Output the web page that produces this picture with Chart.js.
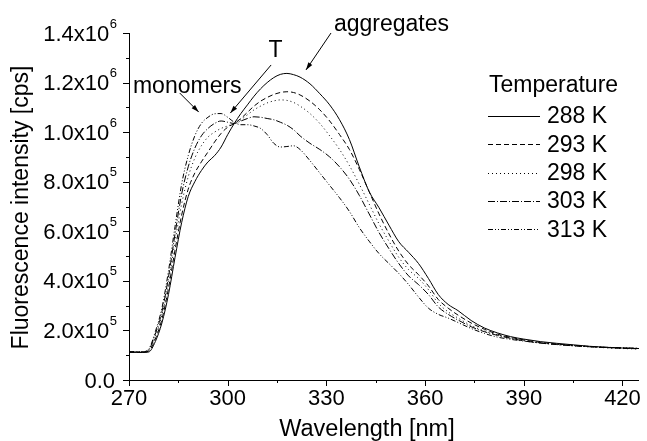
<!DOCTYPE html>
<html>
<head>
<meta charset="utf-8">
<script src="https://cdn.jsdelivr.net/npm/chart.js@4"></script>
<style>
  html, body { margin: 0; padding: 0; background: #fff; }
  #wrap { width: 647px; height: 441px; }
</style>
</head>
<body>
<div id="wrap"><canvas id="fluoChart" width="647" height="441"></canvas></div>
<script>
// Wavelength grid [nm]
const wavelengths = [270, 274, 276, 278, 280, 282, 284, 286, 288, 290, 292, 294, 296, 298, 300, 302, 304, 306, 308, 310,
  312, 314, 316, 318, 320, 322, 325, 328, 331, 334, 337, 340, 343, 346, 349, 352, 355, 358, 361, 364,
  367, 370, 374, 378, 382, 386, 390, 395, 400, 405, 410, 415, 420, 425];

// Fluorescence intensity [cps]
const k288 = [1.12e5, 1.11e5, 1.13e5, 1.55e5, 2.30e5, 3.45e5, 4.95e5, 6.35e5, 7.40e5, 8.00e5,
  8.45e5, 8.80e5, 9.05e5, 9.40e5, 9.90e5, 1.035e6, 1.075e6, 1.11e6, 1.145e6, 1.175e6,
  1.20e6, 1.22e6, 1.233e6, 1.237e6, 1.232e6, 1.222e6, 1.195e6, 1.155e6, 1.11e6, 1.05e6,
  9.70e5, 8.60e5, 7.60e5, 6.95e5, 6.25e5, 5.58e5, 5.15e5, 4.70e5, 4.10e5, 3.45e5,
  3.05e5, 2.80e5, 2.40e5, 2.10e5, 1.90e5, 1.75e5, 1.65e5, 1.55e5, 1.48e5, 1.42e5,
  1.36e5, 1.32e5, 1.29e5, 1.27e5];
const k293 = [1.13e5, 1.12e5, 1.17e5, 1.65e5, 2.45e5, 3.70e5, 5.25e5, 6.65e5, 7.70e5, 8.35e5,
  8.80e5, 9.20e5, 9.60e5, 9.95e5, 1.02e6, 1.035e6, 1.055e6, 1.08e6, 1.105e6, 1.125e6,
  1.14e6, 1.152e6, 1.16e6, 1.163e6, 1.16e6, 1.15e6, 1.125e6, 1.09e6, 1.045e6, 9.90e5,
  9.30e5, 8.50e5, 7.60e5, 6.70e5, 5.90e5, 5.20e5, 4.65e5, 4.25e5, 3.80e5, 3.25e5,
  2.90e5, 2.62e5, 2.30e5, 2.05e5, 1.85e5, 1.72e5, 1.62e5, 1.52e5, 1.45e5, 1.40e5,
  1.35e5, 1.31e5, 1.28e5, 1.26e5];
const k298 = [1.14e5, 1.13e5, 1.20e5, 1.75e5, 2.60e5, 3.95e5, 5.60e5, 7.10e5, 8.20e5, 8.95e5,
  9.45e5, 9.80e5, 1.0e6, 1.015e6, 1.025e6, 1.035e6, 1.05e6, 1.07e6, 1.09e6, 1.105e6,
  1.118e6, 1.126e6, 1.13e6, 1.128e6, 1.12e6, 1.105e6, 1.075e6, 1.035e6, 9.85e5, 9.30e5,
  8.65e5, 7.90e5, 7.10e5, 6.30e5, 5.60e5, 4.95e5, 4.45e5, 4.10e5, 3.65e5, 3.10e5,
  2.75e5, 2.50e5, 2.20e5, 1.98e5, 1.82e5, 1.70e5, 1.60e5, 1.50e5, 1.43e5, 1.38e5,
  1.34e5, 1.30e5, 1.27e5, 1.25e5];
const k303 = [1.13e5, 1.13e5, 1.22e5, 1.85e5, 2.75e5, 4.15e5, 5.90e5, 7.50e5, 8.60e5, 9.35e5,
  9.85e5, 1.015e6, 1.035e6, 1.045e6, 1.04e6, 1.035e6, 1.045e6, 1.055e6, 1.062e6, 1.06e6,
  1.055e6, 1.05e6, 1.04e6, 1.028e6, 1.01e6, 9.85e5, 9.55e5, 9.30e5, 9.0e5, 8.60e5,
  8.10e5, 7.45e5, 6.70e5, 5.95e5, 5.30e5, 4.70e5, 4.20e5, 3.85e5, 3.45e5, 2.95e5,
  2.65e5, 2.42e5, 2.15e5, 1.95e5, 1.80e5, 1.68e5, 1.58e5, 1.49e5, 1.43e5, 1.38e5,
  1.34e5, 1.31e5, 1.29e5, 1.27e5];
const k313 = [1.14e5, 1.14e5, 1.25e5, 1.95e5, 2.90e5, 4.40e5, 6.20e5, 7.90e5, 9.05e5, 9.85e5,
  1.035e6, 1.06e6, 1.074e6, 1.075e6, 1.06e6, 1.04e6, 1.03e6, 1.03e6, 1.025e6, 1.015e6,
  9.90e5, 9.55e5, 9.40e5, 9.42e5, 9.45e5, 9.30e5, 8.85e5, 8.35e5, 7.85e5, 7.35e5,
  6.80e5, 6.15e5, 5.60e5, 5.10e5, 4.70e5, 4.30e5, 3.85e5, 3.35e5, 2.90e5, 2.65e5,
  2.50e5, 2.32e5, 2.08e5, 1.88e5, 1.73e5, 1.64e5, 1.57e5, 1.50e5, 1.44e5, 1.39e5,
  1.35e5, 1.32e5, 1.30e5, 1.28e5];

const temperatures = ['288 K', '293 K', '298 K', '303 K', '313 K'];
const seriesValues = [k288, k293, k298, k303, k313];
const dashPatterns = [[], [5, 3], [1, 3], [7, 2, 1, 2], [5, 2, 1, 2, 1, 2]];

// Axis ticks
const xMajor = [270, 300, 330, 360, 390, 420];
const xMinor = [285, 315, 345, 375, 405];
const yMajor = [0, 2e5, 4e5, 6e5, 8e5, 1e6, 1.2e6, 1.4e6];
const yMinor = [1e5, 3e5, 5e5, 7e5, 9e5, 1.1e6, 1.3e6];
const yTickMantissa = ['0.0', '2.0x10', '4.0x10', '6.0x10', '8.0x10', '1.0x10', '1.2x10', '1.4x10'];
const yTickExponent = ['', '5', '5', '5', '5', '6', '6', '6'];

const xTitle = 'Wavelength [nm]';
const yTitle = 'Fluorescence intensity [cps]';

const FONT = "'Liberation Sans', Arial, sans-serif";

// Hand-drawn tick marks (major longer than minor, pointing outward)
const tickMarks = {
    id: 'tickMarks',
    afterDraw: function(chart) {
        const ctx = chart.ctx;
        const x = chart.scales.x, y = chart.scales.y;
        ctx.save();
        ctx.strokeStyle = '#000';
        ctx.lineWidth = 1;
        ctx.beginPath();
        xMajor.forEach(v => {
            const px = Math.round(x.getPixelForValue(v)) + 0.5;
            ctx.moveTo(px, y.bottom); ctx.lineTo(px, y.bottom + 6);
        });
        xMinor.forEach(v => {
            const px = Math.round(x.getPixelForValue(v)) + 0.5;
            ctx.moveTo(px, y.bottom); ctx.lineTo(px, y.bottom + 3);
        });
        yMajor.forEach(v => {
            const py = Math.round(y.getPixelForValue(v)) + 0.5;
            ctx.moveTo(x.left, py); ctx.lineTo(x.left - 6, py);
        });
        yMinor.forEach(v => {
            const py = Math.round(y.getPixelForValue(v)) + 0.5;
            ctx.moveTo(x.left, py); ctx.lineTo(x.left - 3, py);
        });
        ctx.stroke();
        ctx.restore();
    }
};

// Y tick labels in "a.bx10^n" form with a raised exponent, plus both axis titles
const axisText = {
    id: 'axisText',
    afterDraw: function(chart) {
        const ctx = chart.ctx;
        const x = chart.scales.x, y = chart.scales.y;
        const area = chart.chartArea;
        ctx.save();
        ctx.fillStyle = '#000';
        ctx.textBaseline = 'alphabetic';
        yMajor.forEach((v, i) => {
            const py = y.getPixelForValue(v);
            const exp = yTickExponent[i];
            if (exp) {
                ctx.font = '13px ' + FONT;
                ctx.textAlign = 'right';
                ctx.fillText(exp, area.left - 12, py - 5.4);
                const ew = ctx.measureText(exp).width;
                ctx.font = '22px ' + FONT;
                ctx.fillText(yTickMantissa[i], area.left - 12.5 - ew, py + 7.5);
            } else {
                ctx.font = '22px ' + FONT;
                ctx.textAlign = 'right';
                ctx.fillText(yTickMantissa[i], area.left - 14, py + 7.5);
            }
        });

        // x title, slightly left of the axis centre as in the original
        ctx.font = '23.5px ' + FONT;
        ctx.textAlign = 'center';
        ctx.fillText(xTitle, (area.left + area.right) / 2 - 17, 436);

        // y title, rotated
        ctx.font = '23px ' + FONT;
        ctx.translate(27.5, (area.top + area.bottom) / 2 + 1);
        ctx.rotate(-Math.PI / 2);
        ctx.textAlign = 'center';
        ctx.fillText(yTitle, 0, 0);
        ctx.restore();
    }
};

// Legend box with title, placed inside the plot area
const tempLegend = {
    id: 'tempLegend',
    afterDraw: function(chart) {
        const ctx = chart.ctx;
        const area = chart.chartArea;
        const left = area.left + 359;
        const top = area.top + 53;
        ctx.save();
        ctx.fillStyle = '#000';
        ctx.font = '23px ' + FONT;
        ctx.textBaseline = 'middle';
        ctx.textAlign = 'left';
        ctx.fillText('Temperature', left + 1, top);
        chart.data.datasets.forEach((ds, i) => {
            const rowY = top + 30 + i * 28.3;
            ctx.strokeStyle = '#000';
            ctx.lineWidth = 1;
            ctx.setLineDash(ds.borderDash);
            ctx.beginPath();
            ctx.moveTo(left, Math.round(rowY) + 0.5);
            ctx.lineTo(left + 52, Math.round(rowY) + 0.5);
            ctx.stroke();
            ctx.setLineDash([]);
            ctx.fillText(ds.label, left + 59, rowY + 1);
        });
        ctx.restore();
    }
};

// Text labels with arrows, positioned in data coordinates
const notes = [
    { text: 'monomers', x: 271.2, y: 1.183e6, from: [285.4, 1.158e6], to: [291.2, 1.081e6] },
    { text: 'T', x: 312.4, y: 1.329e6, from: [313.2, 1.271e6], to: [300.8, 1.077e6] },
    { text: 'aggregates', x: 332.3, y: 1.433e6, from: [331.4, 1.40e6], to: [323.8, 1.251e6] }
];

const arrowNotes = {
    id: 'arrowNotes',
    afterDraw: function(chart) {
        const ctx = chart.ctx;
        const x = chart.scales.x, y = chart.scales.y;
        ctx.save();
        ctx.fillStyle = '#000';
        ctx.strokeStyle = '#000';
        ctx.lineWidth = 1;
        ctx.font = '23px ' + FONT;
        ctx.textBaseline = 'middle';
        ctx.textAlign = 'left';
        notes.forEach(n => {
            ctx.fillText(n.text, x.getPixelForValue(n.x), y.getPixelForValue(n.y));
            const x1 = x.getPixelForValue(n.from[0]), y1 = y.getPixelForValue(n.from[1]);
            const x2 = x.getPixelForValue(n.to[0]), y2 = y.getPixelForValue(n.to[1]);
            const ang = Math.atan2(y2 - y1, x2 - x1);
            ctx.beginPath();
            ctx.moveTo(x1, y1);
            ctx.lineTo(x2, y2);
            ctx.stroke();
            const len = 8, spread = 0.3;
            ctx.beginPath();
            ctx.moveTo(x2, y2);
            ctx.lineTo(x2 - len * Math.cos(ang - spread), y2 - len * Math.sin(ang - spread));
            ctx.lineTo(x2 - len * Math.cos(ang + spread), y2 - len * Math.sin(ang + spread));
            ctx.closePath();
            ctx.fill();
        });
        ctx.restore();
    }
};

const ctx = document.getElementById('fluoChart').getContext('2d');

const chart = new Chart(ctx, {
    type: 'line',
    data: {
        datasets: temperatures.map((t, i) => ({
            label: t,
            data: wavelengths.map((w, j) => ({ x: w, y: seriesValues[i][j] })),
            borderColor: '#000',
            borderWidth: 1,
            borderDash: dashPatterns[i],
            pointRadius: 0,
            fill: false,
            cubicInterpolationMode: 'monotone'
        }))
    },
    options: {
        responsive: false,
        animation: false,
        devicePixelRatio: 1,
        layout: {
            padding: { left: 0, right: 5, top: 33, bottom: 0 }
        },
        plugins: {
            legend: { display: false },
            tooltip: { enabled: false }
        },
        scales: {
            x: {
                type: 'linear',
                min: 270,
                max: 425,
                afterBuildTicks: function(scale) {
                    scale.ticks = xMajor.map(v => ({ value: v }));
                },
                afterFit: function(scale) {
                    scale.height = 61;
                },
                grid: { display: false, drawTicks: false },
                border: { display: true, color: '#000', width: 1 },
                ticks: {
                    color: '#000',
                    padding: 6,
                    maxRotation: 0,
                    autoSkip: false,
                    font: { family: FONT, size: 22 }
                }
            },
            y: {
                min: 0,
                max: 1.4e6,
                afterBuildTicks: function(scale) {
                    scale.ticks = yMajor.map(v => ({ value: v }));
                },
                afterFit: function(scale) {
                    scale.width = 129;
                },
                grid: { display: false, drawTicks: false },
                border: { display: true, color: '#000', width: 1 },
                ticks: { display: false }
            }
        }
    },
    plugins: [tickMarks, axisText, tempLegend, arrowNotes]
});
</script>
</body>
</html>
